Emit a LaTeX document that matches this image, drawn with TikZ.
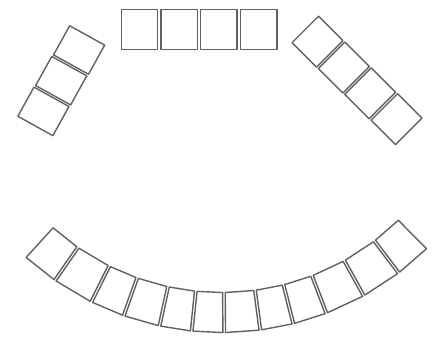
\documentclass[tikz,border=0pt]{standalone}
\usetikzlibrary{calc}
\begin{document}
\begin{tikzpicture}[x=1pt,y=-1pt,
  desk/.style={draw=black!62, line width=1.4pt, line join=round, inner sep=0pt, outer sep=0pt},
  deskline/.style={draw=black!62, line width=1.4pt, line join=round}]
\useasboundingbox (0,0) rectangle (434,338);
% top row
\foreach \i/\x in {1/139.5,2/179.2,3/218.9,4/258.6}
  \node[desk, minimum width=36.5pt, minimum height=40pt] (t\i) at (\x,29.5) {};
% left column
\foreach \i/\x/\y in {1/79.1/50.0,2/61.2/80.7,3/43.4/111.4}
  \node[desk, minimum width=40pt, minimum height=33.3pt, rotate=-29] (l\i) at (\x,\y) {};
% right column
\foreach \i/\x/\y in {1/317.5/41.7,2/343.8/67.5,3/370.2/93.3,4/396.5/119.2}
  \node[desk, minimum width=37.5pt, minimum height=34.6pt, rotate=45] (r\i) at (\x,\y) {};
% bottom arc
\coordinate (C) at (221.7,40.56);
\foreach \a/\b [count=\k] in {-42.3/-34.8, -34.8/-26.5, -26.5/-19.6, -19.6/-12.3, -12.3/-5.9, -5.9/0.5, 0.5/7.6, 7.6/14.2, 14.2/21.0, 21.0/29.1, 29.1/37.3, 37.3/44.8}
  \draw[deskline]
    ($(C)+({90-(\a)}:252)+({-(\a)}:1.3)$) coordinate (a\k) --
    ($(C)+({90-(\a)}:292)+({-(\a)}:1.3)$) coordinate (b\k) --
    ($(C)+({90-(\b)}:292)+({-(\b)}:-1.3)$) coordinate (c\k) --
    ($(C)+({90-(\b)}:252)+({-(\b)}:-1.3)$) coordinate (d\k) -- cycle;
\end{tikzpicture}
\end{document}
